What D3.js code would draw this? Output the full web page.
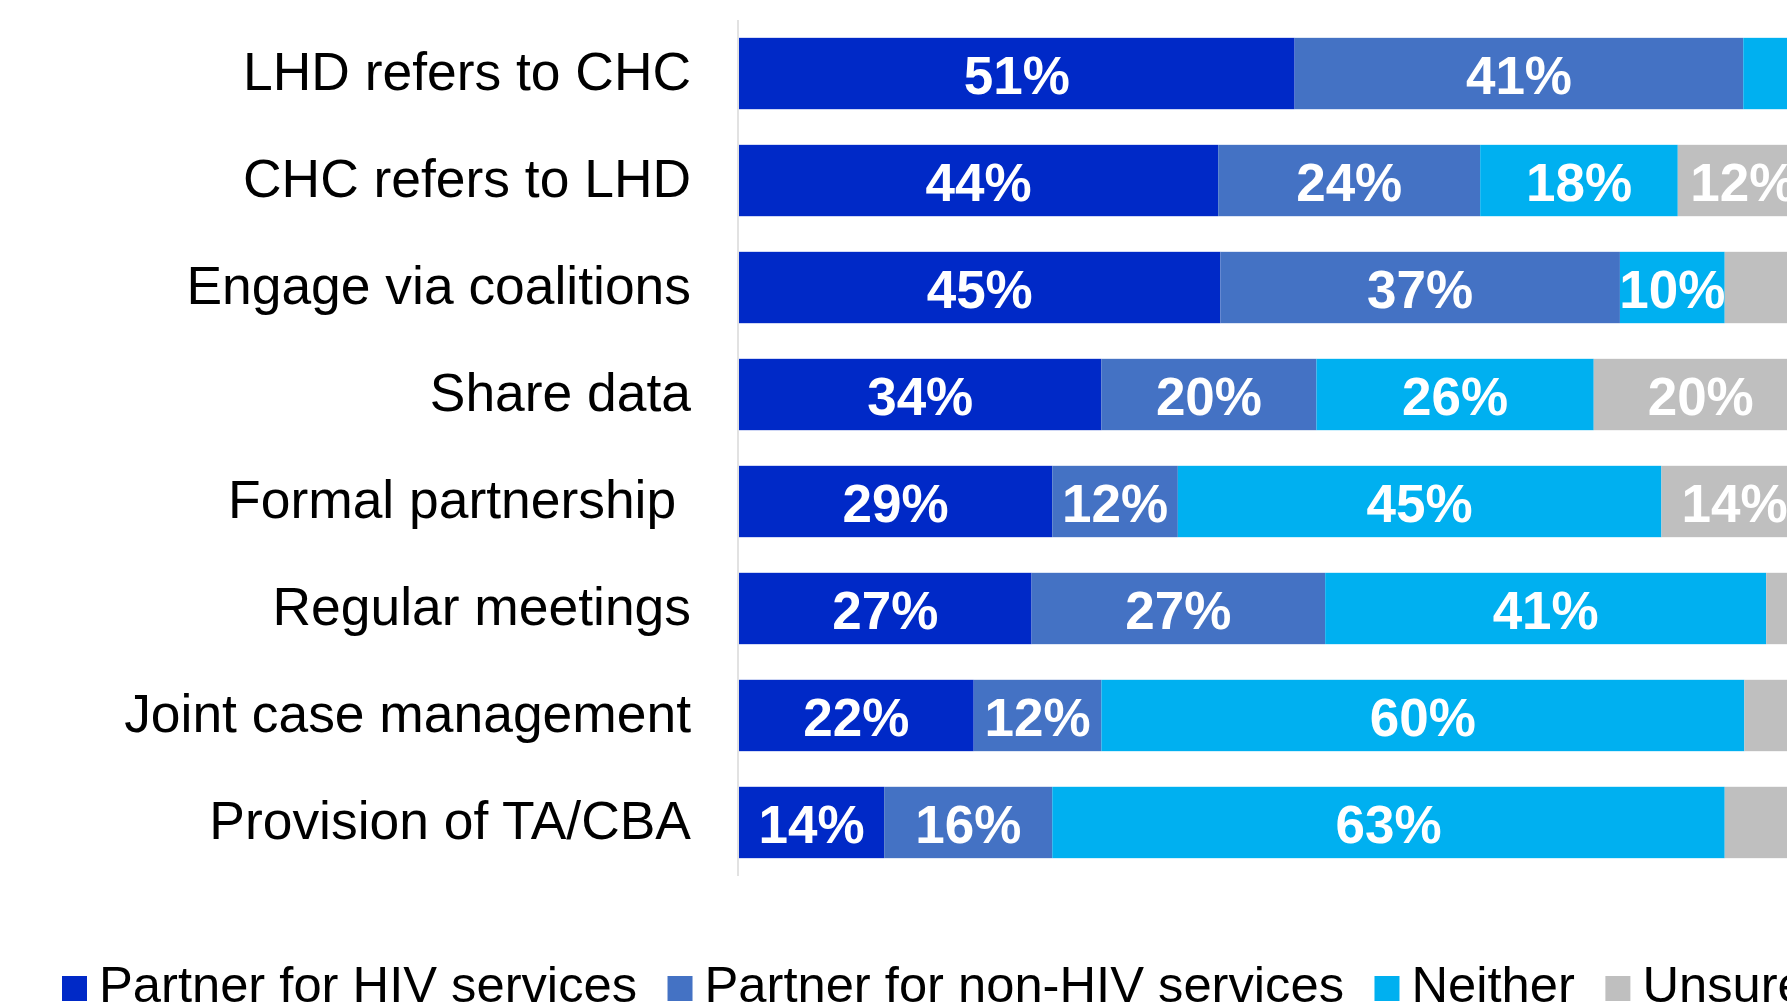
<!DOCTYPE html>
<html>
<head>
<meta charset="utf-8">
<script src="https://cdn.jsdelivr.net/npm/d3@7"></script>
<style>
  body { margin: 0; background: #fff; }
  svg { display: block; }
</style>
</head>
<body>
<svg id="chart"></svg>
<script>
// Categories, top to bottom
const categories = [
  "LHD refers to CHC",
  "CHC refers to LHD",
  "Engage via coalitions",
  "Share data",
  "Formal partnership ",
  "Regular meetings",
  "Joint case management",
  "Provision of TA/CBA"
];

// Series names (legend order)
const seriesNames = [
  "Partner for HIV services",
  "Partner for non-HIV services",
  "Neither",
  "Unsure"
];

// Segment sizes (% of full width)
const hivValues    = [50.9, 43.9, 44.1, 33.2, 28.7, 26.8, 21.5, 13.3];
const nonHivValues = [41.1, 24.0, 36.6, 19.7, 11.5, 26.9, 11.7, 15.4];
const neitherValues = [5.0, 18.1, 9.6, 25.4, 44.3, 40.4, 58.9, 61.6];
const unsureValues = [3.0, 12.0, 8.0, 19.6, 13.4, 4.0, 6.0, 7.0];

// Printed labels on the segments ("" = no label shown)
const hivLabels    = ["51%", "44%", "45%", "34%", "29%", "27%", "22%", "14%"];
const nonHivLabels = ["41%", "24%", "37%", "20%", "12%", "27%", "12%", "16%"];
const neitherLabels = ["", "18%", "10%", "26%", "45%", "41%", "60%", "63%"];
const unsureLabels = ["", "12%", "", "20%", "14%", "", "", ""];

const colors = ["#0029C7", "#4472C4", "#00B0F0", "#BFBFBF"];

const W = 1787, H = 1003;
const margin = {top: 20, left: 739};
const plotWidth = 1091.6;
const plotHeight = 856;
const fontFamily = "'Liberation Sans', Arial, Helvetica, sans-serif";

const svg = d3.select("#chart")
  .attr("width", W)
  .attr("height", H);

// Build rows for the stack
const seriesValues = [hivValues, nonHivValues, neitherValues, unsureValues];
const seriesLabels = [hivLabels, nonHivLabels, neitherLabels, unsureLabels];
const rows = categories.map((c, i) => {
  const row = {category: c};
  seriesNames.forEach((s, j) => { row[s] = seriesValues[j][i]; });
  return row;
});

const stacked = d3.stack().keys(seriesNames)(rows);

// Scales
const x = d3.scaleLinear()
  .domain([0, 100])
  .range([margin.left, margin.left + plotWidth]);

const y = d3.scaleBand()
  .domain(categories)
  .range([margin.top, margin.top + plotHeight])
  .paddingInner(0.333)
  .paddingOuter(0.1667);

// Vertical category axis line
svg.append("line")
  .attr("x1", margin.left - 1)
  .attr("x2", margin.left - 1)
  .attr("y1", margin.top)
  .attr("y2", margin.top + plotHeight)
  .attr("stroke", "#d9d9d9")
  .attr("stroke-width", 1.5);

// Bars
const layers = svg.selectAll(".layer")
  .data(stacked)
  .enter()
  .append("g")
  .attr("class", "layer")
  .attr("fill", (d, i) => colors[i]);

layers.selectAll("rect")
  .data(d => d)
  .enter()
  .append("rect")
  .attr("x", d => x(d[0]))
  .attr("y", d => y(d.data.category))
  .attr("width", d => x(d[1]) - x(d[0]))
  .attr("height", y.bandwidth());

// Segment labels
layers.each(function(layer, i) {
  d3.select(this).selectAll("text")
    .data(layer)
    .enter()
    .append("text")
    .attr("x", d => (x(d[0]) + x(d[1])) / 2)
    .attr("y", d => y(d.data.category) + y.bandwidth() / 2)
    .attr("dy", "0.394em")
    .attr("text-anchor", "middle")
    .attr("fill", "#fff")
    .attr("font-family", fontFamily)
    .attr("font-weight", "bold")
    .attr("font-size", "53px")
    .text((d, k) => seriesLabels[i][k]);
});

// Category labels
svg.selectAll(".cat-label")
  .data(categories)
  .enter()
  .append("text")
  .attr("class", "cat-label")
  .attr("x", 691)
  .attr("y", d => y(d) + y.bandwidth() / 2)
  .attr("dy", "0.3em")
  .attr("text-anchor", "end")
  .attr("fill", "#000")
  .attr("font-family", fontFamily)
  .attr("font-size", "53.4px")
  .style("white-space", "pre")
  .text(d => d);

// Legend along the bottom
const legend = svg.append("g")
  .attr("class", "legend");

let lx = 62;
seriesNames.forEach((name, i) => {
  legend.append("rect")
    .attr("x", lx)
    .attr("y", 976)
    .attr("width", 25)
    .attr("height", 25)
    .attr("fill", colors[i]);

  const t = legend.append("text")
    .attr("x", lx + 37)
    .attr("y", 1002)
    .attr("fill", "#000")
    .attr("font-family", fontFamily)
    .attr("font-size", "50.7px")
    .text(name);

  lx += 37 + t.node().getComputedTextLength() + 30.5;
});
</script>
</body>
</html>
